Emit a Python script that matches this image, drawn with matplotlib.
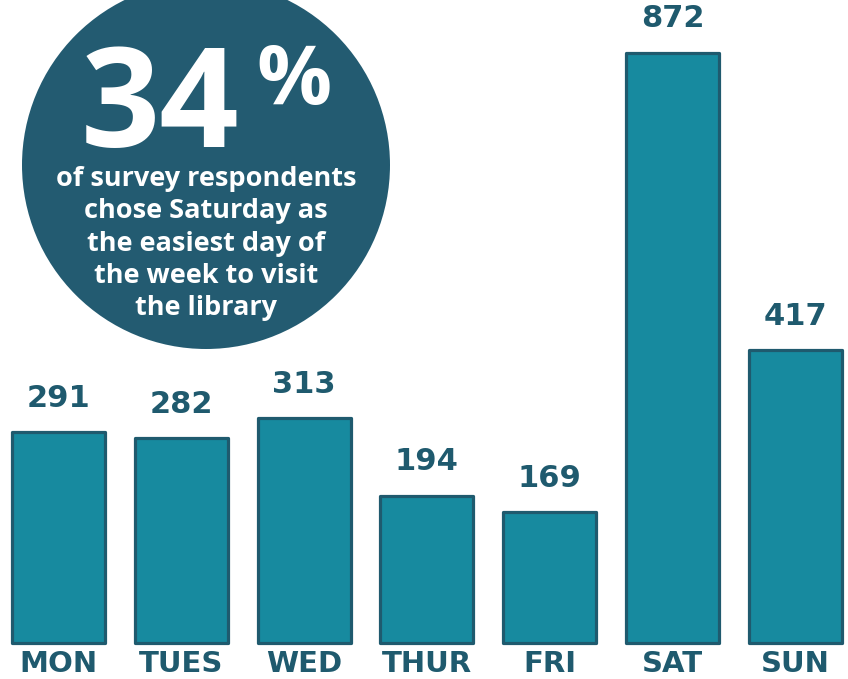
import matplotlib
matplotlib.use('Agg')
import matplotlib.pyplot as plt
from matplotlib.patches import Circle

# data
days = ['MON', 'TUES', 'WED', 'THUR', 'FRI', 'SAT', 'SUN']
counts = [291, 282, 313, 194, 169, 872, 417]
headline = '34'
blurb = ['of survey respondents', 'chose Saturday as', 'the easiest day of',
         'the week to visit', 'the library']

W, H = 848, 679
fill = '#178a9f'
edge = '#1f5a6e'
circle_col = '#235b71'

fig = plt.figure(figsize=(W / 100, H / 100), dpi=100)

# bars start a bit below the visible baseline
base = -31.5
ax = fig.add_axes([0, 36 / H, 1, 643 / H])
ax.bar(range(len(days)), [c - base for c in counts], bottom=base, width=0.757,
       color=fill, edgecolor=edge, linewidth=2.3, joinstyle='round', clip_on=False)
ax.set_xlim(-0.476, 6.43)
ax.set_ylim(base, 953)
ax.axis('off')

for i, c in enumerate(counts):
    ax.annotate(str(c), (i, c), xytext=(0, 14), textcoords='offset points',
                ha='center', va='bottom', fontsize=22, fontweight='bold',
                color=edge, family='DejaVu Sans')
    ax.annotate(days[i], (i, base), xytext=(0, -5), textcoords='offset points',
                ha='center', va='top', fontsize=21, fontweight='bold',
                color=edge, family='DejaVu Sans')

# overlay in pixel space for the callout circle
ov = fig.add_axes([0, 0, 1, 1], zorder=5)
ov.set_xlim(0, W)
ov.set_ylim(H, 0)
ov.axis('off')
ov.add_patch(Circle((206, 165), 184, color=circle_col, lw=0))
ov.text(160, 147, headline, ha='center', va='baseline', fontsize=100,
        fontweight='bold', color='white', family='Open Sans')
ov.text(294, 104, '%', ha='center', va='baseline', fontsize=60,
        fontweight='bold', color='white', family='Open Sans')
for k, line in enumerate(blurb):
    ov.text(206, 179 + 32.3 * k, line, ha='center', va='center', fontsize=19.5,
            fontweight='bold', color='white', family='Open Sans')

fig.savefig('out.png', dpi=100)
